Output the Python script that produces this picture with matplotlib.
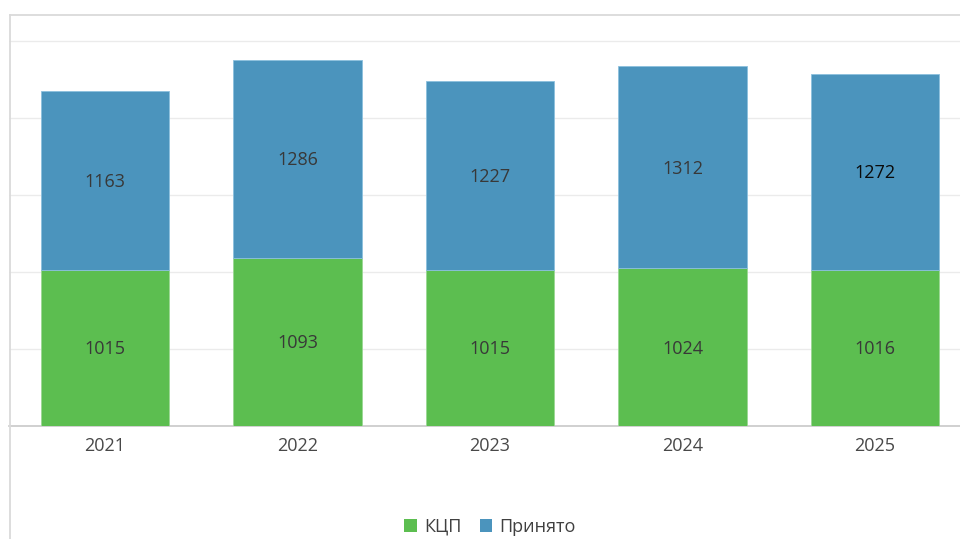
import numpy as np
import matplotlib.pyplot as plt
from matplotlib.lines import Line2D
from matplotlib.patches import Patch

# data
years = ['2021', '2022', '2023', '2024', '2025']
kcp = [1015, 1093, 1015, 1024, 1016]
prinyato = [1163, 1286, 1227, 1312, 1272]

GREEN = '#5cbe50'
BLUE = '#4b94bd'


def main():
    plt.rcParams['font.family'] = ['Open Sans', 'DejaVu Sans']
    fig = plt.figure(figsize=(9.6, 5.39), dpi=100)
    W, H = 960, 539

    # plot area in pixels: left 8.75, right 971.25, bottom y=426, top y=14
    left, right, top, bottom = 8.75, 971.25, 14, 426
    ax = fig.add_axes([left / W, 1 - bottom / H, (right - left) / W,
                       (bottom - top) / H])

    x = np.arange(len(years))
    width = 0.665
    ax.bar(x, kcp, width, color=GREEN, edgecolor='#9ad893',
           linewidth=0.6, zorder=3, label='КЦП')
    ax.bar(x, prinyato, width, bottom=kcp, color=BLUE,
           edgecolor='#8cc0de', linewidth=0.6, zorder=3, label='Принято')

    # pixel -> data units for a small downward nudge of the labels
    ymax = (bottom - top) / 77 * 500
    nudge = 1.5 * 500 / 77
    for i in range(len(years)):
        ax.text(x[i], kcp[i] / 2 - nudge, str(kcp[i]), ha='center',
                va='center', fontsize=13, color='#383838', zorder=4)
        col = '#0a0a0a' if i == len(years) - 1 else '#383838'
        ax.text(x[i], kcp[i] + prinyato[i] / 2 - nudge, str(prinyato[i]),
                ha='center', va='center', fontsize=13, color=col, zorder=4)

    ax.set_xlim(-0.5, len(years) - 0.5)
    ax.set_ylim(0, ymax)
    ax.set_yticks(np.arange(500, 3000, 500))
    ax.yaxis.grid(True, color='#ebebeb', linewidth=1, zorder=0)
    ax.tick_params(axis='y', left=False, labelleft=False)
    ax.set_xticks(x)
    ax.set_xticklabels(years, fontsize=13, color='#484848')
    ax.tick_params(axis='x', length=0, pad=8)
    for s in ['top', 'right', 'left']:
        ax.spines[s].set_visible(False)
    ax.spines['bottom'].set_color('#c8c8c8')
    ax.spines['bottom'].set_linewidth(1.2)

    # outer frame lines
    fig.add_artist(Line2D([10 / W, 1], [1 - 14.5 / H, 1 - 14.5 / H],
                          color='#dadada', linewidth=1.3))
    fig.add_artist(Line2D([10 / W, 10 / W], [1 - 14.5 / H, 0],
                          color='#dadada', linewidth=1.3))

    handles = [Patch(facecolor=GREEN), Patch(facecolor=BLUE)]
    fig.legend(handles, ['КЦП', 'Принято'], loc='center',
               bbox_to_anchor=(490 / W, 1 - 526.5 / H), ncol=2, frameon=False,
               fontsize=13, handlelength=0.7, handleheight=0.7,
               handletextpad=0.4, columnspacing=1.0, labelcolor='#404040')

    fig.savefig('out.png', dpi=100)


if __name__ == '__main__':
    main()
